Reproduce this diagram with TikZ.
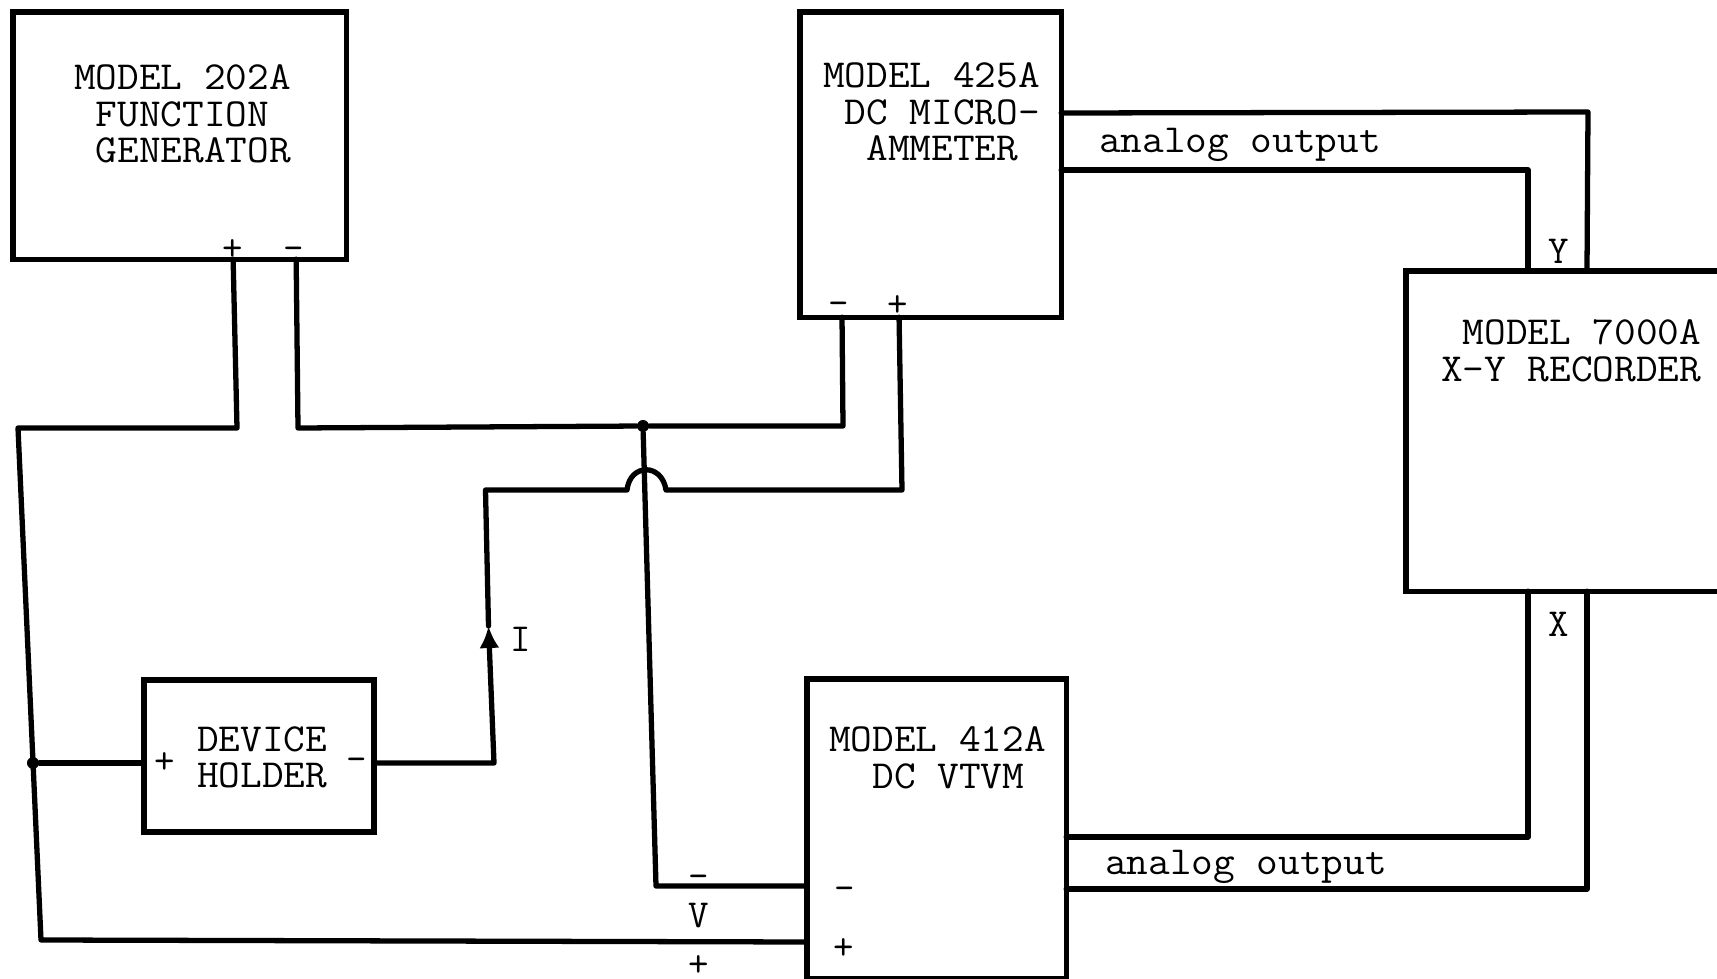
\documentclass[tikz,border=0pt]{standalone}
\usepackage{xcolor}
\usepackage{tikz}
\usetikzlibrary{arrows.meta, positioning, calc}
\tikzset{
  unit/.style={draw, line width=1.5pt, anchor=north west, inner sep=0pt, outer sep=0pt},
  wire/.style={line width=1.5pt, line join=round, line cap=round},
  tag/.style={font=\ttfamily\fontsize{11.3}{10.3}\selectfont, inner sep=0pt, outer sep=0pt},
  wide/.style={tag, xscale=1.06, transform shape},
  title/.style={wide, anchor=north west, align=left},
  joint/.style={fill, circle, inner sep=0pt, minimum size=0.12cm},
}

\begin{document}
\begin{tikzpicture}[x=0.01cm, y=-0.01cm]
  \useasboundingbox (0,0) rectangle (1717,979);
  \clip (0,0) rectangle (1717,979);

  % Instruments
  \node[unit, minimum width=3.33cm, minimum height=2.47cm] (gen) at (13,12) {};
  \node[unit, minimum width=2.61cm, minimum height=3.05cm] (micro) at (800,12) {};
  \node[unit, minimum width=4.00cm, minimum height=3.20cm] (rec) at (1406,271) {};
  \node[unit, minimum width=2.59cm, minimum height=2.99cm] (vtvm) at (807,679) {};
  \node[unit, minimum width=2.30cm, minimum height=1.52cm] (holder) at (144,680) {};

  % Titles
  \node[title] (gentitle) at (74,65) {MODEL 202A\\\ FUNCTION\\\ GENERATOR};
  \node[title] (microtitle) at (823,63) {MODEL 425A\\\ DC MICRO-\\\ \ AMMETER};
  \node[title] (rectitle) at (1441,320) {\ MODEL 7000A\\X-Y RECORDER};
  \node[title] (vtvmtitle) at (829,727) {MODEL 412A\\\ \ DC VTVM};
  \node[title] (holdertitle) at (197,727) {DEVICE\\HOLDER};

  % Terminals
  \node[tag] (genplus) at (233,250) {+};
  \node[tag] (genminus) at (294,254) {-};
  \node[tag] (microminus) at (839,309) {-};
  \node[tag] (microplus) at (898,306) {+};
  \node[tag] (holderplus) at (165,763) {+};
  \node[tag] (holderminus) at (357,765) {-};
  \node[tag] (vtvmminus) at (845,894) {-};
  \node[tag] (vtvmplus) at (844,949) {+};

  % Signal labels
  \node[tag] (currlabel) at (521,639) {I};
  \node[tag] (voltminus) at (699,882) {-};
  \node[tag] (voltlabel) at (699,916) {V};
  \node[tag] (voltplus) at (699,966) {+};
  \node[tag] (ylabel) at (1559,251) {Y};
  \node[tag] (xlabel) at (1559,624) {X};
  \node[wide] (microout) at (1240,145) {analog output};
  \node[wide] (vtvmout) at (1246,867) {analog output};

  % Joints
  \node[joint] (topjoint) at (643,426) {};
  \node[joint] (leftjoint) at (33,763) {};

  % Source loop
  \draw[wire] ([xshift=2.20cm]gen.south west) -- (237,428) -- (18,428) -- (41,940) -- (vtvm.west |- 0,942);
  \draw[wire] ([xshift=2.83cm]gen.south west) -- (298,428) -- (topjoint) -- (843,426) -- ([xshift=0.42cm]micro.south west);
  \draw[wire] (leftjoint) -- (holder.west |- leftjoint);

  % Sense lead
  \draw[wire] (topjoint) -- (656,886) -- (vtvm.west |- 0,886);

  % Device current
  \draw[wire, -{Latex[length=0.22cm, width=0.2cm]}] (holder.east |- leftjoint) -- (494,763) -- (488.5,626);
  \draw[wire] (488.5,626) -- (485.5,490) -- (627,490)
    .. controls (630,463) and (662,463) .. (666,490) -- (902,490) -- ([xshift=0.99cm]micro.south west);

  % Analog outputs
  \draw[wire] (micro.east |- 0,113) -- (1588,112) -- (rec.north west -| 1587,0);
  \draw[wire] (micro.east |- 0,170) -- (1528,170) -- (rec.north west -| 1528,0);
  \draw[wire] (rec.south west -| 1528,0) -- (1528,837) -- (vtvm.east |- 0,837);
  \draw[wire] (rec.south west -| 1587,0) -- (1587,889) -- (vtvm.east |- 0,889);
\end{tikzpicture}
\end{document}
